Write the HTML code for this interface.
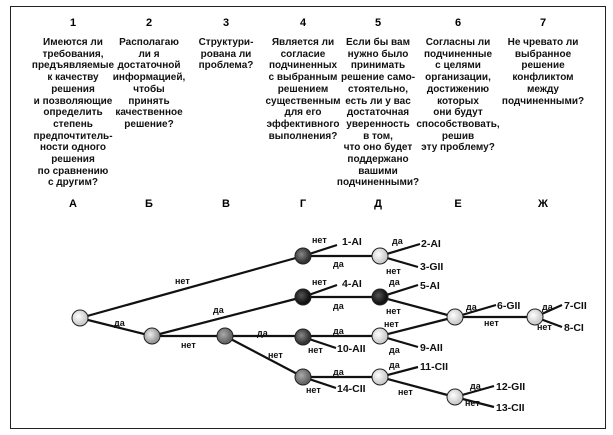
<!DOCTYPE html>
<html><head><meta charset="utf-8"><style>
body{margin:0;background:#fff;width:613px;height:435px;overflow:hidden}
.c{position:absolute;text-align:center;font:bold 10px "Liberation Sans","DejaVu Sans",sans-serif;line-height:11.7px;color:#111;transform:translateX(-50%);white-space:nowrap}
.n{position:absolute;font:bold 11px "Liberation Sans",sans-serif;transform:translateX(-50%)}
</style></head><body>
<div style="position:absolute;left:10px;top:6px;width:594px;height:421px;border:1.5px solid #222"></div>
<div class="n" style="left:73px;top:17px">1</div>
<div class="n" style="left:149px;top:17px">2</div>
<div class="n" style="left:226px;top:17px">3</div>
<div class="n" style="left:303px;top:17px">4</div>
<div class="n" style="left:378px;top:17px">5</div>
<div class="n" style="left:458px;top:17px">6</div>
<div class="n" style="left:543px;top:17px">7</div>
<div class="c" style="left:73px;top:37px">Имеются ли<br>требования,<br>предъявляемые<br>к качеству<br>решения<br>и позволяющие<br>определить<br>степень<br>предпочтитель-<br>ности одного<br>решения<br>по сравнению<br>с другим?</div>
<div class="c" style="left:149px;top:37px">Располагаю<br>ли я<br>достаточной<br>информацией,<br>чтобы<br>принять<br>качественное<br>решение?</div>
<div class="c" style="left:226px;top:37px">Структури-<br>рована ли<br>проблема?</div>
<div class="c" style="left:303px;top:37px">Является ли<br>согласие<br>подчиненных<br>с выбранным<br>решением<br>существенным<br>для его<br>эффективного<br>выполнения?</div>
<div class="c" style="left:378px;top:37px">Если бы вам<br>нужно было<br>принимать<br>решение само-<br>стоятельно,<br>есть ли у вас<br>достаточная<br>уверенность<br>в том,<br>что оно будет<br>поддержано<br>вашими<br>подчиненными?</div>
<div class="c" style="left:458px;top:37px">Согласны ли<br>подчиненные<br>с целями<br>организации,<br>достижению<br>которых<br>они будут<br>способствовать,<br>решив<br>эту проблему?</div>
<div class="c" style="left:543px;top:37px">Не чревато ли<br>выбранное<br>решение<br>конфликтом<br>между<br>подчиненными?</div>
<div class="n" style="left:73px;top:198px">А</div>
<div class="n" style="left:149px;top:198px">Б</div>
<div class="n" style="left:226px;top:198px">В</div>
<div class="n" style="left:303px;top:198px">Г</div>
<div class="n" style="left:378px;top:198px">Д</div>
<div class="n" style="left:458px;top:198px">Е</div>
<div class="n" style="left:543px;top:198px">Ж</div>
<svg width="613" height="435" style="position:absolute;left:0;top:0" font-family="Liberation Sans,sans-serif" font-weight="bold">
<defs>
<radialGradient id="w" cx="40%" cy="40%"><stop offset="0" stop-color="#fff"/><stop offset="1" stop-color="#ccc"/></radialGradient>
<radialGradient id="l" cx="40%" cy="40%"><stop offset="0" stop-color="#eee"/><stop offset="1" stop-color="#999"/></radialGradient>
<radialGradient id="m" cx="40%" cy="40%"><stop offset="0" stop-color="#aaa"/><stop offset="1" stop-color="#666"/></radialGradient>
<radialGradient id="d" cx="40%" cy="40%"><stop offset="0" stop-color="#888"/><stop offset="1" stop-color="#333"/></radialGradient>
<radialGradient id="k" cx="40%" cy="40%"><stop offset="0" stop-color="#555"/><stop offset="1" stop-color="#111"/></radialGradient>
</defs>
<g stroke="#111" stroke-width="2.2" fill="none">
<path d="M80 318L303 256M80 318L152 336L303 297M152 336L225 336L380 336M225 336L303 377L380 377M303 256L380 256M303 297L380 297"/>
<path d="M303 256L337 245M303 297L337 285M303 337L336 348M303 377L336 388"/>
<path d="M380 256L420 244M380 256L418 267M380 297L418 285M380 297L455 317M380 336L455 317M380 336L418 347M380 377L418 367M380 377L455 397M455 397L494 386M455 397L494 407M455 317L496 305M455 317L535 317M535 317L562 305M535 317L562 327"/>
</g>
<g stroke="#222" stroke-width="1">
<circle cx="80" cy="318" r="8" fill="url(#w)"/>
<circle cx="152" cy="336" r="8" fill="url(#l)"/>
<circle cx="225" cy="336" r="8" fill="url(#m)"/>
<circle cx="303" cy="256" r="8" fill="url(#d)"/>
<circle cx="303" cy="297" r="8" fill="url(#k)"/>
<circle cx="303" cy="337" r="8" fill="url(#d)"/>
<circle cx="303" cy="377" r="8" fill="url(#m)"/>
<circle cx="380" cy="256" r="8" fill="url(#w)"/>
<circle cx="380" cy="297" r="8" fill="url(#k)"/>
<circle cx="380" cy="336" r="8" fill="url(#w)"/>
<circle cx="380" cy="377" r="8" fill="url(#w)"/>
<circle cx="455" cy="317" r="8" fill="url(#w)"/>
<circle cx="455" cy="397" r="8" fill="url(#w)"/>
<circle cx="535" cy="317" r="8" fill="url(#w)"/>
</g>
<g font-size="9" fill="#111">
<text x="175" y="284">нет</text><text x="114" y="326">да</text>
<text x="213" y="313">да</text><text x="181" y="348">нет</text>
<text x="257" y="336">да</text><text x="268" y="358">нет</text>
<text x="312" y="243">нет</text><text x="333" y="267">да</text>
<text x="312" y="285">нет</text><text x="333" y="309">да</text>
<text x="333" y="334">да</text><text x="308" y="353">нет</text>
<text x="333" y="375">да</text><text x="306" y="393">нет</text>
<text x="392" y="244">да</text><text x="386" y="274">нет</text>
<text x="389" y="285">да</text><text x="386" y="314">нет</text>
<text x="384" y="327">нет</text><text x="389" y="353">да</text>
<text x="389" y="368">да</text><text x="398" y="395">нет</text>
<text x="466" y="310">да</text><text x="484" y="326">нет</text>
<text x="470" y="389">да</text><text x="465" y="406">нет</text>
<text x="542" y="310">да</text><text x="537" y="330">нет</text>
</g>
<g font-size="10.5" fill="#111">
<text x="342" y="245">1-AI</text><text x="342" y="287">4-AI</text>
<text x="337" y="352">10-AII</text><text x="337" y="392">14-CII</text>
<text x="421" y="247">2-AI</text><text x="420" y="270">3-GII</text>
<text x="420" y="289">5-AI</text><text x="420" y="351">9-AII</text>
<text x="420" y="370">11-CII</text><text x="497" y="309">6-GII</text>
<text x="564" y="309">7-CII</text><text x="564" y="331">8-CI</text>
<text x="496" y="390">12-GII</text><text x="496" y="411">13-CII</text>
</g>
</svg>
</body></html>
